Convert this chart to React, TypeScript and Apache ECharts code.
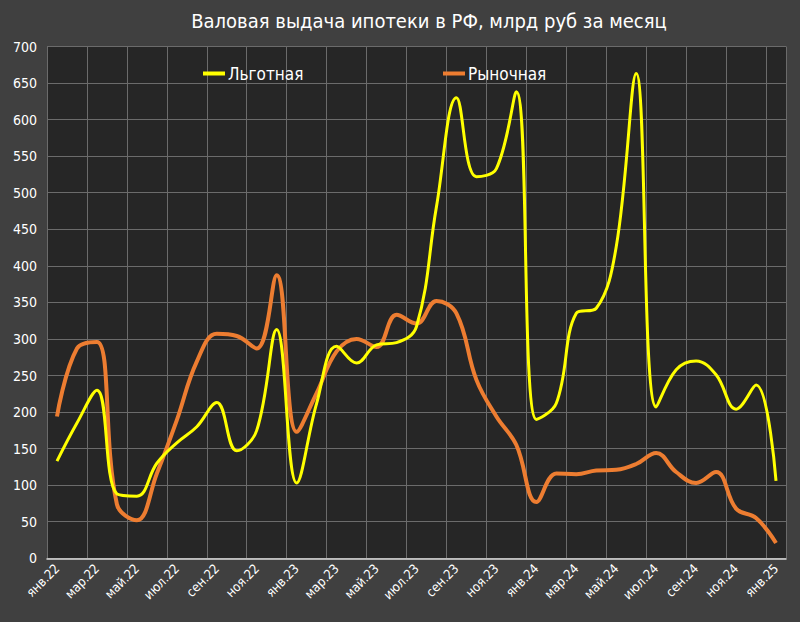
import React, { useEffect, useRef } from "react";
import * as echarts from "echarts";

const categories = [
  "янв.22", "фев.22", "мар.22", "апр.22", "май.22", "июн.22", "июл.22", "авг.22", "сен.22", "окт.22", "ноя.22", "дек.22",
  "янв.23", "фев.23", "мар.23", "апр.23", "май.23", "июн.23", "июл.23", "авг.23", "сен.23", "окт.23", "ноя.23", "дек.23",
  "янв.24", "фев.24", "мар.24", "апр.24", "май.24", "июн.24", "июл.24", "авг.24", "сен.24", "окт.24", "ноя.24", "дек.24",
  "янв.25",
];

const preferential = [
  133, 185, 230, 88, 85, 130, 158, 180, 213, 147, 175, 313,
  103, 212, 290, 267, 292, 295, 317, 481, 630, 522, 533, 638,
  190, 212, 335, 342, 426, 663, 207, 258, 270, 251, 204, 237,
  106,
];

const market = [
  194, 287, 296, 74, 52, 116, 189, 269, 307, 304, 287, 387,
  173, 226, 283, 300, 289, 333, 321, 352, 335, 244, 194, 155,
  77, 116, 115, 120, 121, 129, 144, 118, 103, 118, 68, 55,
  21,
];

const titleText = "Валовая выдача ипотеки в РФ, млрд руб за месяц";
const seriesNames = ["Льготная", "Рыночная"];

const FONT = "'Liberation Sans Narrow', 'DejaVu Sans Condensed', 'Open Sans', sans-serif";

export default function App() {
  const ref = useRef<HTMLDivElement>(null);
  useEffect(() => {
    if (!ref.current) return;
    const chart = echarts.init(ref.current, undefined, { renderer: "svg" });
    chart.setOption({
      animation: false,
      backgroundColor: "#404040",
      textStyle: { fontFamily: FONT },
      title: {
        text: titleText,
        left: 424,
        top: 6,
        textAlign: "center",
        textStyle: { color: "#ffffff", fontSize: 20, fontWeight: "normal", fontFamily: FONT },
      },
      legend: [
        {
          data: [seriesNames[0]],
          left: 198,
          top: 60,
          icon: "rect",
          itemWidth: 22,
          itemHeight: 4,
          textStyle: { color: "#ffffff", fontSize: 17, fontFamily: FONT, padding: [0, 0, 0, -2] },
        },
        {
          data: [seriesNames[1]],
          left: 438,
          top: 60,
          icon: "rect",
          itemWidth: 22,
          itemHeight: 4,
          textStyle: { color: "#ffffff", fontSize: 17, fontFamily: FONT, padding: [0, 0, 0, -2] },
        },
      ],
      grid: {
        left: 47,
        right: 14,
        top: 46.5,
        bottom: 622 - 558.3,
        show: true,
        backgroundColor: "#262626",
        borderWidth: 0,
        containLabel: false,
      },
      xAxis: {
        type: "category",
        data: categories,
        boundaryGap: true,
        axisLine: { show: true, lineStyle: { color: "#d9d9d9", width: 1.5 } },
        axisTick: { show: false, interval: 1 },
        axisLabel: {
          interval: 1,
          rotate: 45,
          color: "#ffffff",
          fontSize: 13,
          fontFamily: FONT,
          margin: 8,
        },
        splitLine: { show: true, interval: 1, lineStyle: { color: "#6b6b6b", width: 1 } },
      },
      yAxis: {
        type: "value",
        min: 0,
        max: 700,
        interval: 50,
        axisLine: { show: false },
        axisTick: { show: false },
        axisLabel: { color: "#ffffff", fontSize: 14, fontFamily: FONT, margin: 10 },
        splitLine: { show: true, lineStyle: { color: "#6b6b6b", width: 1 } },
      },
      series: [
        {
          name: seriesNames[0],
          type: "line",
          data: preferential,
          smooth: 0.4,
          showSymbol: false,
          symbol: "none",
          color: "#ffff00",
          lineStyle: { color: "#ffff00", width: 3 },
          z: 3,
        },
        {
          name: seriesNames[1],
          type: "line",
          data: market,
          smooth: 0.4,
          showSymbol: false,
          symbol: "none",
          color: "#ed7d31",
          lineStyle: { color: "#ed7d31", width: 4 },
          z: 2,
        },
      ],
    });
    return () => chart.dispose();
  }, []);
  return (
    <div
      ref={ref}
      style={{ position: "fixed", left: 0, top: 0, width: 800, height: 622 }}
    />
  );
}
